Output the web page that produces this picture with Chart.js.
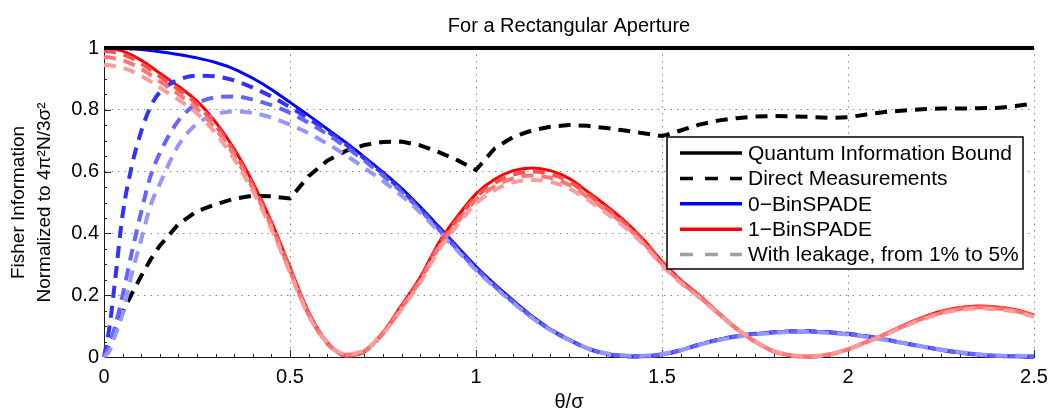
<!DOCTYPE html>
<html>
<head>
<meta charset="utf-8">
<title>Fisher information, rectangular aperture</title>
<script src="https://cdn.jsdelivr.net/npm/chart.js@4.4.1/dist/chart.umd.min.js"></script>
<style>
  html, body { margin: 0; padding: 0; background: #fff; }
  canvas { display: block; }
</style>
</head>
<body>
<canvas id="fisher" width="1057" height="419"></canvas>
<script>
// values, theta/sigma on x
const theta = [0, 0.015, 0.03, 0.05, 0.075, 0.1, 0.125, 0.15, 0.2, 0.25, 0.3, 0.35, 0.4, 0.45, 0.5,
  0.55, 0.6, 0.65, 0.7, 0.75, 0.8, 0.85, 0.9, 0.95, 1.0, 1.05, 1.1, 1.15, 1.2, 1.25, 1.3, 1.35, 1.4,
  1.45, 1.5, 1.55, 1.6, 1.65, 1.7, 1.75, 1.8, 1.85, 1.9, 1.95, 2.0, 2.05, 2.1, 2.15, 2.2, 2.25, 2.3,
  2.35, 2.4, 2.45, 2.5];

const boundTheta = [0, 2.5];
const quantumBound = [1, 1];

const directMeas = [0, 0.045, 0.09, 0.145, 0.205, 0.262, 0.315, 0.36, 0.43, 0.472, 0.494, 0.512, 0.522, 0.52, 0.513,
  0.585, 0.635, 0.667, 0.686, 0.696, 0.697, 0.685, 0.663, 0.637, 0.605, 0.675, 0.712, 0.733, 0.745, 0.751, 0.748, 0.741, 0.733,
  0.724, 0.715, 0.733, 0.752, 0.765, 0.773, 0.778, 0.78, 0.779, 0.777, 0.774, 0.776, 0.785, 0.793, 0.798, 0.802, 0.804, 0.804,
  0.805, 0.806, 0.812, 0.82];

const spade0 = [1.0, 1.0, 1.0, 0.999, 0.997, 0.995, 0.992, 0.988, 0.979, 0.968, 0.953, 0.932, 0.902, 0.866, 0.824,
  0.782, 0.738, 0.694, 0.647, 0.598, 0.546, 0.486, 0.422, 0.357, 0.293, 0.236, 0.183, 0.133, 0.09, 0.057, 0.028, 0.01, 0.002,
  0.001, 0.008, 0.022, 0.04, 0.056, 0.067, 0.075, 0.08, 0.083, 0.083, 0.08, 0.075, 0.067, 0.057, 0.045, 0.034, 0.023, 0.014,
  0.007, 0.003, 0.001, 0.0];

const spade1 = [1.0, 0.999, 0.996, 0.99, 0.977, 0.96, 0.94, 0.918, 0.876, 0.828, 0.76, 0.673, 0.565, 0.438, 0.29,
  0.145, 0.048, 0.004, 0.018, 0.08, 0.168, 0.258, 0.37, 0.455, 0.528, 0.575, 0.603, 0.612, 0.603, 0.578, 0.535, 0.49, 0.44,
  0.38, 0.31, 0.25, 0.2, 0.145, 0.093, 0.05, 0.018, 0.003, 0.0, 0.008, 0.025, 0.05, 0.075, 0.103, 0.128, 0.148, 0.16,
  0.165, 0.162, 0.153, 0.136];

// 0-BinSPADE with leakage 1%, 3%, 5%
const spade0Leak1 = [0, 0.1, 0.25, 0.46, 0.62, 0.73, 0.81, 0.857, 0.897, 0.91, 0.908, 0.895, 0.872, 0.843, 0.808,
  0.772, 0.731, 0.688, 0.642, 0.593, 0.54, 0.48, 0.416, 0.351, 0.288, 0.232, 0.18, 0.131, 0.089, 0.056, 0.028, 0.01, 0.003,
  0.002, 0.008, 0.022, 0.04, 0.056, 0.067, 0.075, 0.08, 0.083, 0.083, 0.08, 0.075, 0.067, 0.057, 0.045, 0.034, 0.023, 0.014,
  0.007, 0.003, 0.002, 0.001];
const spade0Leak3 = [0, 0.04, 0.1, 0.2, 0.34, 0.47, 0.585, 0.66, 0.765, 0.82, 0.84, 0.843, 0.833, 0.815, 0.79,
  0.758, 0.721, 0.68, 0.635, 0.587, 0.534, 0.476, 0.412, 0.348, 0.285, 0.229, 0.177, 0.129, 0.088, 0.055, 0.028, 0.011, 0.004,
  0.003, 0.009, 0.022, 0.04, 0.055, 0.066, 0.074, 0.079, 0.082, 0.082, 0.079, 0.074, 0.066, 0.056, 0.045, 0.034, 0.023, 0.015,
  0.008, 0.004, 0.003, 0.002];
const spade0Leak5 = [0, 0.02, 0.07, 0.14, 0.27, 0.38, 0.49, 0.56, 0.685, 0.755, 0.785, 0.795, 0.79, 0.775, 0.752,
  0.724, 0.69, 0.653, 0.612, 0.569, 0.522, 0.468, 0.406, 0.344, 0.281, 0.226, 0.175, 0.127, 0.087, 0.055, 0.028, 0.012, 0.005,
  0.004, 0.01, 0.022, 0.039, 0.054, 0.065, 0.073, 0.078, 0.081, 0.081, 0.078, 0.073, 0.065, 0.055, 0.045, 0.034, 0.024, 0.016,
  0.009, 0.005, 0.004, 0.003];

// 1-BinSPADE with leakage 1%, 3%, 5%
const spade1Leak1 = [0.99, 0.989, 0.986, 0.98, 0.967, 0.95, 0.93, 0.908, 0.866, 0.818, 0.75, 0.663, 0.555, 0.43, 0.283,
  0.14, 0.045, 0.005, 0.018, 0.077, 0.163, 0.252, 0.362, 0.445, 0.518, 0.563, 0.59, 0.6, 0.592, 0.568, 0.527, 0.482, 0.433,
  0.374, 0.305, 0.246, 0.197, 0.143, 0.092, 0.05, 0.018, 0.004, 0.001, 0.008, 0.025, 0.049, 0.074, 0.101, 0.126, 0.146, 0.158,
  0.163, 0.16, 0.151, 0.134];
const spade1Leak3 = [0.97, 0.969, 0.966, 0.96, 0.948, 0.932, 0.913, 0.892, 0.851, 0.804, 0.738, 0.652, 0.546, 0.422, 0.278,
  0.137, 0.045, 0.007, 0.02, 0.076, 0.159, 0.247, 0.354, 0.436, 0.508, 0.552, 0.578, 0.587, 0.58, 0.557, 0.518, 0.474, 0.427,
  0.369, 0.301, 0.243, 0.195, 0.142, 0.092, 0.05, 0.019, 0.005, 0.002, 0.009, 0.025, 0.049, 0.073, 0.1, 0.124, 0.143, 0.155,
  0.16, 0.157, 0.149, 0.132];
const spade1Leak5 = [0.945, 0.944, 0.941, 0.936, 0.925, 0.91, 0.892, 0.872, 0.833, 0.788, 0.724, 0.64, 0.537, 0.414, 0.273,
  0.135, 0.046, 0.009, 0.022, 0.075, 0.155, 0.241, 0.346, 0.427, 0.497, 0.54, 0.565, 0.573, 0.567, 0.545, 0.509, 0.466, 0.42,
  0.364, 0.297, 0.24, 0.193, 0.141, 0.092, 0.051, 0.02, 0.006, 0.003, 0.009, 0.025, 0.048, 0.072, 0.098, 0.122, 0.141, 0.152,
  0.157, 0.154, 0.146, 0.13];

const xTicks = [0, 0.5, 1, 1.5, 2, 2.5];
const yTicks = [0, 0.2, 0.4, 0.6, 0.8, 1];

const chartTitle = 'For a Rectangular Aperture';
const legendLabels = ['Quantum Information Bound', 'Direct Measurements', '0\u2212BinSPADE', '1\u2212BinSPADE',
  'With leakage, from 1% to 5%'];

const FONT = "'Liberation Sans', Arial, Helvetica, sans-serif";
const DASH = [12, 8];

const pts = (xs, ys) => xs.map((x, i) => ({ x: x, y: ys[i] }));

function line(values, color, width, dash, order, xs) {
  return {
    data: pts(xs || theta, values),
    borderColor: color,
    borderWidth: width,
    borderDash: dash || [],
    pointRadius: 0,
    fill: false,
    clip: false,
    cubicInterpolationMode: 'monotone',
    order: order
  };
}

const direct = line(directMeas, '#000', 4, DASH, 8);
direct.cubicInterpolationMode = 'default';
direct.tension = 0;

const datasets = [
  line(quantumBound, '#000', 4, null, 0, boundTheta),
  direct,
  line(spade0, '#0000ff', 3, null, 10),
  line(spade1, '#ff0000', 3, null, 9),
  line(spade0Leak1, 'rgb(50,50,255)', 4, DASH, 7),
  line(spade0Leak3, 'rgb(100,100,255)', 4, DASH, 6),
  line(spade0Leak5, 'rgb(150,150,255)', 4, DASH, 5),
  line(spade1Leak1, 'rgb(255,80,80)', 4, DASH, 4),
  line(spade1Leak3, 'rgb(255,118,118)', 4, DASH, 3),
  line(spade1Leak5, 'rgb(255,155,155)', 4, DASH, 2)
];

const legendStyle = [
  { color: '#000', dash: [] },
  { color: '#000', dash: [13, 12] },
  { color: '#0000ff', dash: [] },
  { color: '#ff0000', dash: [] },
  { color: '#a0a0a0', dash: [13, 12] }
];

// title centred over the plot box, not the canvas
const plotTitle = {
  id: 'plotTitle',
  afterDraw(chart) {
    const { ctx, chartArea: a } = chart;
    ctx.save();
    ctx.font = '20px ' + FONT;
    ctx.fillStyle = '#000';
    ctx.textAlign = 'center';
    ctx.textBaseline = 'middle';
    ctx.fillText(chartTitle, (a.left + a.right) / 2, 26);
    ctx.restore();
  }
};

// matlab style inward ticks, minor ones too
const axisTicks = {
  id: 'axisTicks',
  beforeDatasetsDraw(chart) {
    const { ctx, chartArea: a, scales: { x, y } } = chart;
    ctx.save();
    ctx.strokeStyle = '#262626';
    ctx.lineWidth = 1;
    ctx.beginPath();
    for (let i = 0; i <= 50; i++) {
      const px = Math.round(x.getPixelForValue(i * 0.05)) + 0.5;
      const len = i % 10 === 0 ? 7 : 3;
      ctx.moveTo(px, a.bottom);
      ctx.lineTo(px, a.bottom - len);
    }
    for (let i = 0; i <= 20; i++) {
      const py = Math.round(y.getPixelForValue(i * 0.05)) + 0.5;
      const len = i % 4 === 0 ? 7 : 3;
      ctx.moveTo(a.left, py);
      ctx.lineTo(a.left + len, py);
    }
    ctx.stroke();
    ctx.restore();
  }
};

const boxLegend = {
  id: 'boxLegend',
  afterDatasetsDraw(chart) {
    const { ctx } = chart;
    const left = 667, top = 137, w = 356, h = 132;
    ctx.save();
    ctx.fillStyle = '#fff';
    ctx.fillRect(left, top, w, h);
    ctx.strokeStyle = '#000';
    ctx.lineWidth = 1.5;
    ctx.strokeRect(left, top, w, h);
    ctx.font = '21px ' + FONT;
    ctx.textBaseline = 'middle';
    ctx.fillStyle = '#000';
    legendLabels.forEach((lab, i) => {
      const yy = top + 16 + i * 25.4;
      ctx.beginPath();
      ctx.strokeStyle = legendStyle[i].color;
      ctx.lineWidth = 3.5;
      ctx.setLineDash(legendStyle[i].dash);
      ctx.moveTo(680, yy);
      ctx.lineTo(742, yy);
      ctx.stroke();
      ctx.setLineDash([]);
      ctx.fillText(lab, 748, yy + 1);
    });
    ctx.restore();
  }
};

const tickFont = { family: FONT, size: 20 };

new Chart(document.getElementById('fisher'), {
  type: 'line',
  data: { datasets: datasets },
  options: {
    responsive: false,
    animation: false,
    events: [],
    layout: { padding: { left: 0, right: 23, top: 48, bottom: 0 } },
    plugins: {
      legend: { display: false },
      tooltip: { enabled: false },
      title: { display: false }
    },
    scales: {
      x: {
        type: 'linear',
        min: 0,
        max: 2.5,
        afterBuildTicks: (s) => { s.ticks = xTicks.map(v => ({ value: v })); },
        afterFit: (s) => { s.height = 62; },
        ticks: { color: '#000', font: tickFont, padding: 8, maxRotation: 0, autoSkip: false,
          callback: (v) => String(v) },
        grid: { color: '#8a8a8a', lineWidth: 1, drawTicks: false },
        border: { display: true, color: '#1a1a1a', width: 1, dash: [1.5, 5] },
        title: { display: true, text: '\u03b8/\u03c3', color: '#000', font: { family: FONT, size: 20 },
          padding: { top: 0, bottom: 5 } }
      },
      y: {
        type: 'linear',
        min: 0,
        max: 1,
        afterBuildTicks: (s) => { s.ticks = yTicks.map(v => ({ value: v })); },
        afterFit: (s) => { s.width = 104; },
        ticks: { color: '#000', font: tickFont, padding: 5, autoSkip: false,
          callback: (v) => String(v) },
        grid: { color: '#8a8a8a', lineWidth: 1, drawTicks: false },
        border: { display: true, color: '#1a1a1a', width: 1, dash: [1.5, 5] },
        title: { display: true, text: ['Fisher Information', 'Normalized to 4\u03c0\u00b2N/3\u03c3\u00b2'], color: '#000',
          font: { family: FONT, size: 19, lineHeight: 1.35 }, padding: { top: 6, bottom: 0 } }
      }
    }
  },
  plugins: [axisTicks, boxLegend, plotTitle]
});
</script>
</body>
</html>
